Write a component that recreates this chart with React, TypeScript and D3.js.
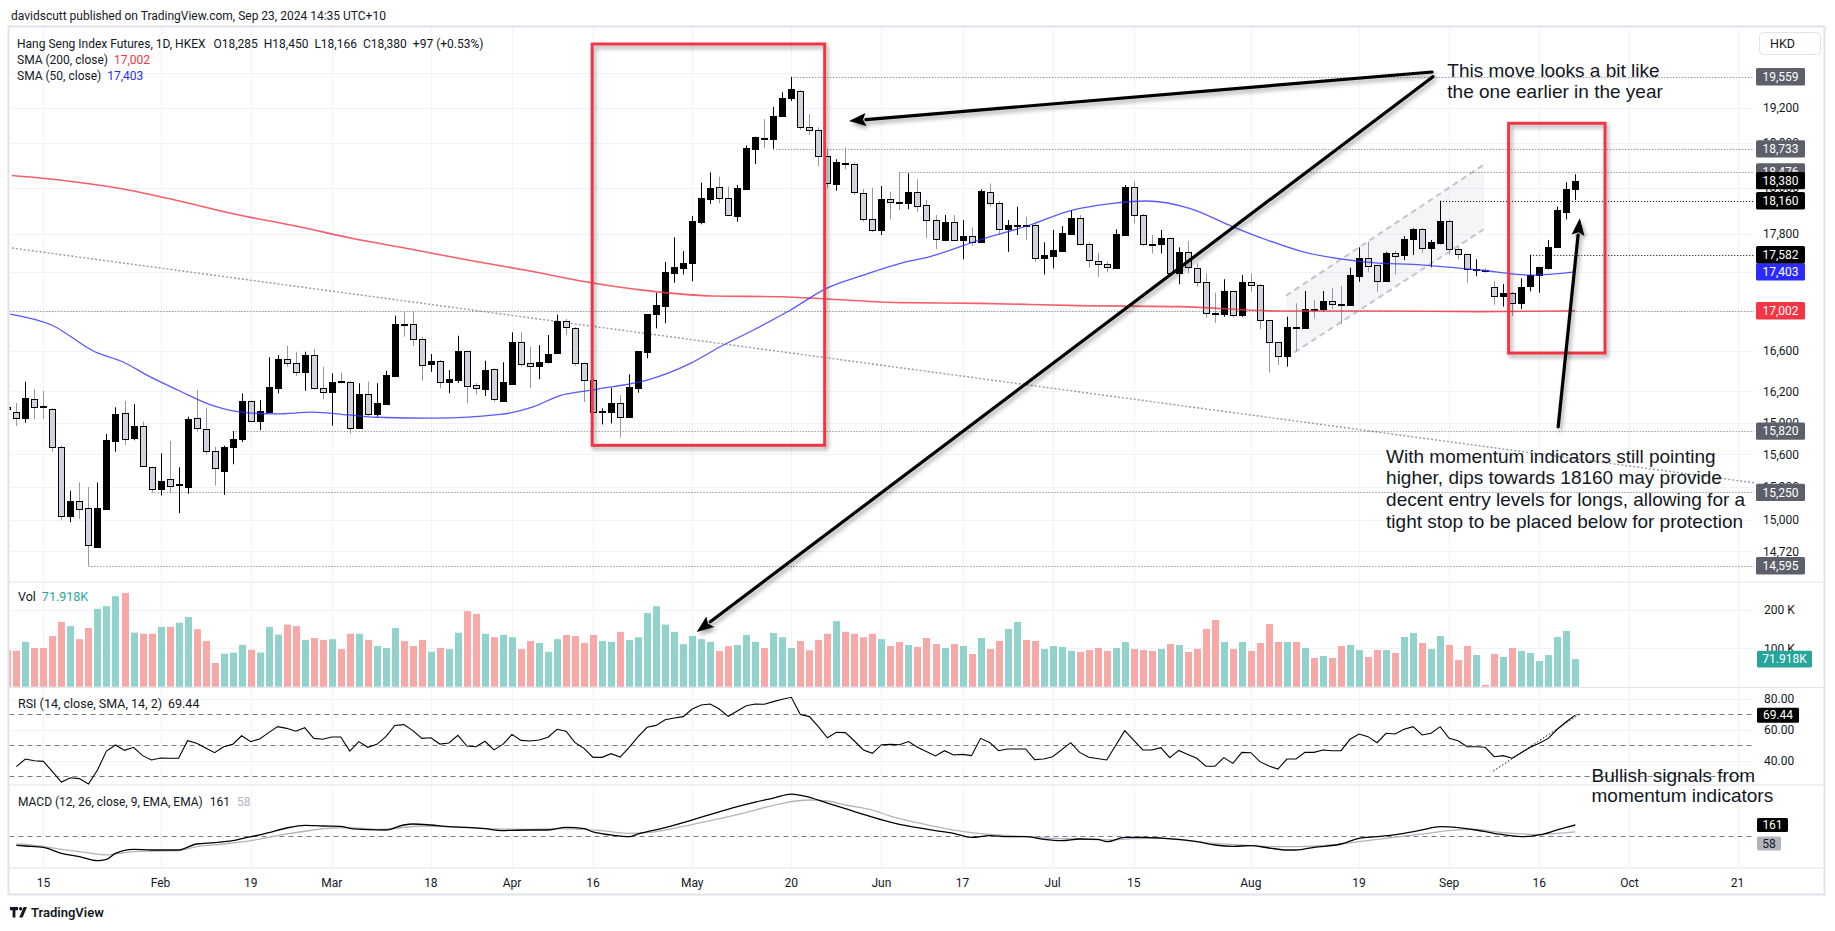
import React from "react";
import * as d3 from "d3";

const W = 1835;
const H = 931;
const FIRST_INDEX = -4; // bar index of the first (partly hidden) candle; index 0 = Jan 15

// ---------- OHLC (i = -4 .. 170) ----------
const opens = [
  16050, 15999, 15947, 16124, 16060, 16028, 15673, 15040, 15170, 15107,
  14762, 15101, 15729, 15989, 15752, 15864, 15481, 15285, 15370, 15325,
  15303, 15941, 15836, 15636, 15450, 15673, 15748, 16109, 15912, 16005,
  16234, 16515, 16475, 16387, 16557, 16230, 16192, 16305, 16292, 15846,
  16172, 15980, 16083, 16353, 16870, 16870, 16713, 16465, 16498, 16289,
  16311, 16597, 16260, 16227, 16416, 16111, 16276, 16684, 16475, 16448,
  16485, 16574, 16900, 16827, 16475, 16311, 16005, 16005, 16085, 15957,
  16236, 16590, 16966, 17053, 17387, 17446, 17492, 17933, 18182, 18307,
  18186, 17998, 18292, 18735, 18858, 18847, 19108, 19316, 19397, 18976,
  18942, 18656, 18346, 18570, 18559, 18248, 17959, 17844, 18176, 18143,
  18139, 18252, 18110, 17948, 17736, 17929, 17743, 17780, 17720, 18258,
  18132, 17851, 17897, 17899, 17894, 17553, 17570, 17624, 17806, 17970,
  17692, 17519, 17481, 17446, 17791, 18314, 18002, 17695, 17692, 17756,
  17387, 17607, 17446, 17293, 16980, 16966, 17205, 16963, 17293, 17265,
  16907, 16687, 16550, 16835, 16830, 17022, 17020, 17100, 17075, 17063,
  17362, 17544, 17474, 17311, 17597, 17576, 17745, 17851, 17650, 17710,
  17941, 17639, 17586, 17429, 17425, 17248, 17157, 17185, 17081, 17255,
  17369, 17439, 17667, 18040, 18285,
];
const highs = [
  16080, 16088, 16295, 16221, 16205, 16037, 15683, 15264, 15343, 15300,
  15340, 15793, 16047, 16109, 16078, 15910, 15487, 15611, 15727, 15481,
  15957, 16214, 16043, 15673, 15683, 15820, 16182, 16112, 16117, 16535,
  16557, 16650, 16590, 16590, 16617, 16441, 16376, 16382, 16302, 16280,
  16296, 16280, 16402, 16953, 16988, 16990, 16740, 16567, 16508, 16409,
  16750, 16597, 16280, 16501, 16425, 16485, 16784, 16784, 16640, 16657,
  16757, 16963, 16920, 16837, 16485, 16328, 16037, 16236, 16165, 16367,
  16597, 16969, 17187, 17506, 17766, 17621, 17995, 18357, 18471, 18423,
  18314, 18332, 18772, 18869, 19070, 19211, 19378, 19559, 19405, 19128,
  18976, 18739, 18616, 18752, 18582, 18288, 18302, 18321, 18258, 18476,
  18460, 18395, 18168, 18005, 18005, 18005, 17951, 17873, 18285, 18350,
  18157, 17951, 18095, 17986, 17909, 17714, 17844, 17886, 18059, 18005,
  17720, 17603, 17508, 17851, 18332, 18376, 18016, 17791, 17844, 17763,
  17660, 17727, 17492, 17387, 17187, 17326, 17208, 17369, 17387, 17275,
  16910, 16690, 16941, 17078, 17204, 17112, 17204, 17232, 17255, 17446,
  17660, 17720, 17474, 17613, 17624, 17780, 17862, 17868, 17738, 18160,
  17959, 17667, 17596, 17533, 17439, 17306, 17276, 17195, 17336, 17582,
  17452, 17738, 18095, 18361, 18450,
];
const lows = [
  16010, 15868, 15900, 15932, 15932, 15626, 14996, 14980, 15011, 14595,
  14756, 15092, 15626, 15689, 15733, 15487, 15250, 15222, 15243, 15061,
  15237, 15814, 15602, 15312, 15228, 15509, 15717, 15902, 15830, 15996,
  16182, 16442, 16350, 16207, 16220, 16124, 15871, 16280, 15798, 15840,
  15967, 15957, 16078, 16343, 16740, 16647, 16305, 16392, 16230, 16182,
  16283, 16085, 16172, 16156, 16101, 16101, 16263, 16441, 16230, 16320,
  16475, 16567, 16757, 16448, 16098, 15989, 15884, 15893, 15761, 15947,
  16188, 16525, 16824, 16875, 17290, 17376, 17304, 17906, 18124, 18132,
  17995, 17934, 18277, 18563, 18740, 18733, 19097, 19277, 18946, 18888,
  18541, 18296, 18270, 18505, 18223, 17934, 17823, 17791, 17959, 18059,
  18067, 18040, 17761, 17642, 17727, 17727, 17533, 17675, 17720, 18095,
  17791, 17613, 17791, 17738, 17507, 17376, 17439, 17613, 17791, 17681,
  17446, 17350, 17398, 17446, 17791, 17916, 17675, 17596, 17596, 17369,
  17273, 17387, 17248, 16931, 16880, 16941, 16935, 16941, 17197, 16815,
  16384, 16459, 16442, 16590, 16824, 16925, 16996, 17020, 16868, 17063,
  17300, 17398, 17197, 17300, 17377, 17526, 17579, 17603, 17450, 17692,
  17582, 17533, 17290, 17357, 17394, 17063, 17045, 16948, 17020, 17200,
  17187, 17429, 17656, 17959, 18166,
];
const closes = [
  16030, 15947, 16133, 16053, 16053, 15667, 15040, 15170, 15098, 14774,
  15107, 15736, 15980, 15742, 15864, 15493, 15282, 15352, 15309, 15330,
  15934, 15846, 15636, 15472, 15673, 15745, 16109, 15912, 16012, 16240,
  16515, 16475, 16390, 16557, 16230, 16192, 16292, 16300, 15846, 16172,
  15980, 16090, 16359, 16870, 16866, 16713, 16455, 16498, 16289, 16321,
  16597, 16253, 16230, 16406, 16124, 16292, 16684, 16465, 16448, 16488,
  16567, 16900, 16837, 16475, 16308, 15999, 16012, 16085, 15957, 16240,
  16597, 16969, 17057, 17398, 17456, 17495, 17941, 18186, 18299, 18186,
  18004, 18299, 18738, 18862, 18852, 19105, 19308, 19413, 18976, 18942,
  18656, 18350, 18582, 18565, 18252, 17962, 17844, 18176, 18143, 18140,
  18252, 18102, 17948, 17746, 17929, 17743, 17780, 17720, 18266, 18132,
  17851, 17897, 17899, 17892, 17553, 17578, 17632, 17809, 17970, 17692,
  17526, 17481, 17450, 17798, 18307, 18005, 17692, 17690, 17756, 17387,
  17607, 17450, 17293, 16976, 16975, 17205, 16956, 17293, 17265, 16910,
  16683, 16550, 16835, 16830, 17020, 17017, 17100, 17073, 17070, 17369,
  17544, 17466, 17311, 17597, 17572, 17745, 17851, 17650, 17714, 17941,
  17639, 17586, 17429, 17431, 17420, 17157, 17185, 17081, 17248, 17369,
  17450, 17660, 18056, 18283, 18380,
];
// volume in thousands
const volumes = [
  95, 93.9, 117, 101, 101, 132, 169, 158, 124, 153,
  203, 210, 236, 244, 141, 138, 138, 156, 156, 167,
  182, 150, 119, 61.8, 86, 89, 109, 96.5, 89, 156,
  136, 162, 158, 122, 127, 122, 124, 98, 138, 138,
  122, 106, 101, 153, 119, 106, 122, 91, 101, 98,
  141, 197, 190, 138, 129, 135, 129, 98, 119, 114,
  91, 124, 135, 132, 114, 135, 119, 117, 143, 122,
  129, 192, 210, 162, 143, 111, 132, 124, 117, 93,
  106, 109, 135, 117, 101, 140, 129, 101, 119, 95,
  122, 138, 171, 143, 138, 129, 138, 124, 106, 116.6,
  108.8, 103.6, 127, 111.3, 101, 111.3, 106.1, 85.3, 127, 98.4,
  119.1, 150.4, 168.6, 121.8, 119.1, 98.4, 106.1, 103.6, 93.1, 90.5,
  95.7, 101, 93.1, 101, 116.6, 98.4, 95.7, 93.1, 98.4, 111.3,
  108.8, 90.5, 98.4, 150.4, 173.9, 116.6, 98.4, 116.6, 93.1, 114,
  163.4, 116.6, 116.6, 116.6, 101, 75, 80.2, 75, 106.1, 108.8,
  95.7, 77.5, 95.7, 95.7, 88, 129.6, 140, 114, 98.4, 132.2,
  108.8, 69.6, 106.1, 82.6, 4.6, 85.3, 77.5, 101, 93.1, 88,
  67, 82.6, 129.6, 145.3, 71.918,
];

// ---------- indicators: [bar index, value] ----------
const sma50Points: [number, number][] = [
  [-3.7, 16969], [0.9, 16858], [5.7, 16590], [8.8, 16491], [11.8, 16344], [14.9, 16214],
  [18.9, 16060], [22.4, 15996], [25.9, 15984], [29.8, 16000], [33.8, 15974], [36.9, 15952],
  [43.4, 15943], [50.9, 15981], [54.4, 16053], [57.5, 16165], [59.5, 16197], [63.2, 16246],
  [67, 16311], [71.8, 16475], [75.1, 16640], [78.8, 16807], [82.9, 17010], [86.9, 17232],
  [91, 17369], [95.1, 17492], [98.4, 17562], [103.9, 17738], [109.5, 17898], [113.9, 18051],
  [118.7, 18132], [122.4, 18157], [127.2, 18077], [132, 17879], [135.8, 17738], [139.5, 17621],
  [146.5, 17508], [153.1, 17474], [159.4, 17422], [165, 17369], [170, 17403],
];
const sma200Points: [number, number][] = [
  [-3.5, 18436], [1.8, 18387], [8.2, 18299], [14.6, 18168], [21.2, 18016], [28.5, 17877],
  [34.1, 17759], [40.7, 17642], [47.1, 17526], [54, 17411], [59.5, 17311], [67, 17208],
  [74.3, 17153], [81.7, 17146], [89.1, 17112], [95.1, 17085], [103.9, 17078], [115, 17054],
  [126.1, 17044], [137.2, 17000], [148.2, 17000], [159.4, 16993], [170, 17002],
];
const rsiPoints: [number, number][] = [
  [-3, 36.1], [-2, 41.0], [-1, 39.9], [0, 39.5], [1, 32.8], [2, 26.1], [3, 28.9], [4, 28.3],
  [5, 24.8], [6, 33.9], [7, 46.2], [8, 50.1], [9, 46.6], [10, 48.6], [11, 43.2], [12, 40.4],
  [13, 41.7], [14, 41.5], [15, 41.5], [16, 52.9], [17, 51.2], [18, 48.2], [19, 45.1], [20, 49.0],
  [21, 50.5], [22, 56.1], [23, 52.3], [24, 54.0], [25, 58.1], [26, 62.0], [27, 60.9], [28, 59.0],
  [29, 61.3], [30, 54.4], [31, 53.8], [32, 55.3], [33, 55.3], [34, 46.2], [35, 52.3], [36, 48.6],
  [37, 50.5], [38, 55.5], [39, 62.8], [40, 63.3], [41, 59.4], [42, 54.4], [43, 54.8], [44, 50.7],
  [45, 51.4], [46, 56.4], [47, 49.4], [48, 49.0], [49, 52.5], [50, 46.9], [51, 50.5], [52, 57.0],
  [53, 53.1], [54, 52.7], [55, 53.3], [56, 55.1], [57, 60.3], [58, 59.0], [59, 51.6], [60, 47.9],
  [61, 42.1], [62, 42.1], [63, 44.5], [64, 42.3], [65, 48.6], [66, 55.5], [67, 61.6], [68, 62.8],
  [69, 66.5], [70, 67.6], [71, 68.5], [72, 73.4], [73, 76.0], [74, 76.7], [75, 73.4], [76, 68.7],
  [77, 72.1], [78, 75.6], [79, 76.7], [80, 76.5], [81, 78.2], [82, 79.7], [83, 81.0], [84, 69.8],
  [85, 68.5], [86, 62.0], [87, 54.8], [88, 58.3], [89, 58.1], [90, 52.7], [91, 46.9], [92, 44.7],
  [93, 50.3], [94, 50.5], [95, 50.3], [96, 52.3], [97, 48.6], [99, 43.0], [100, 46.4], [101, 43.6],
  [102, 44.0], [103, 43.2], [104, 54.4], [105, 51.8], [106, 46.4], [107, 47.5], [109, 47.5], [110, 40.6],
  [111, 41.0], [112, 42.5], [114, 51.6], [115, 45.3], [116, 42.1], [118, 40.4], [120, 59.4], [122, 46.9],
  [123, 46.9], [124, 48.4], [125, 41.9], [126, 46.6], [127, 44.0], [128, 41.5], [129, 36.3], [130, 36.3],
  [131, 41.9], [132, 38.2], [133, 45.3], [134, 45.1], [135, 39.3], [136, 36.5], [137, 34.5], [138, 41.0],
  [139, 41.0], [140, 45.3], [141, 45.3], [142, 46.9], [143, 46.4], [144, 46.4], [145, 53.8], [146, 57.2],
  [147, 55.5], [148, 51.6], [149, 57.7], [150, 57.2], [151, 60.3], [152, 62.0], [153, 56.6], [154, 57.7],
  [155, 62.0], [156, 54.4], [157, 52.9], [158, 49.0], [159, 49.0], [160, 48.6], [161, 42.5], [162, 43.2],
  [163, 41.5], [164, 45.1], [165, 48.6], [166, 51.2], [167, 54.4], [168, 60.3], [169, 65.2], [170, 69.44],
];
const macdPoints: [number, number][] = [
  [-3, -145], [-2, -155], [0, -175], [2, -265], [4, -315], [6, -375], [7, -355], [8, -265],
  [10, -205], [12, -215], [15, -215], [17, -125], [19, -105], [21, -75], [23, -15], [24, 11],
  [25, 46], [27, 116], [29, 156], [31, 146], [33, 141], [34, 111], [36, 91], [38, 86],
  [40, 161], [41, 176], [43, 161], [45, 136], [47, 126], [49, 106], [51, 76], [52, 81],
  [54, 86], [56, 86], [58, 126], [60, 106], [61, 56], [63, 11], [65, -15], [66, 26],
  [69, 121], [71, 196], [73, 280], [75, 360], [77, 437], [79, 505], [81, 565], [83, 627],
  [85, 577], [87, 490], [89, 407], [91, 320], [93, 240], [95, 170], [97, 121], [99, 76],
  [101, 36], [103, -25], [105, 0], [107, -15], [109, -15], [111, -55], [113, -75], [115, -50],
  [117, -55], [118, -90], [120, -25], [122, -25], [124, -35], [126, -55], [128, -90], [130, -140],
  [132, -160], [134, -150], [136, -185], [138, -215], [139, -215], [141, -175], [144, -125], [146, -40],
  [148, -15], [151, 36], [153, 86], [155, 136], [157, 121], [159, 86], [161, 36], [164, -15],
  [166, 11], [168, 86], [170, 161],
];
const signalPoints: [number, number][] = [
  [-3, -125], [-1, -145], [2, -205], [4, -240], [7, -290], [8, -275], [10, -240], [13, -230],
  [15, -225], [17, -165], [20, -125], [23, -75], [25, -25], [27, 26], [30, 86], [32, 116],
  [34, 121], [37, 96], [39, 111], [42, 146], [45, 136], [47, 121], [50, 101], [54, 96],
  [57, 106], [60, 96], [62, 76], [65, 36], [67, 46], [70, 111], [73, 196], [76, 286],
  [79, 386], [82, 487], [85, 537], [87, 522], [89, 462], [92, 386], [94, 296], [97, 196],
  [100, 111], [103, 46], [106, 11], [109, -15], [112, -40], [115, -50], [118, -65], [121, -45],
  [124, -40], [127, -75], [130, -115], [133, -140], [137, -165], [139, -165], [143, -140], [146, -90],
  [149, -40], [153, 26], [156, 76], [159, 96], [161, 61], [164, 26], [166, 21], [168, 36], [170, 58],
];

// ---------- axes ----------
const timeTickIdx = [0, 13, 23, 32, 43, 52, 61, 72, 83, 93, 102, 112, 121, 134, 146, 156, 166, 176, 188];
const timeTickLabels = ["15", "Feb", "19", "Mar", "18", "Apr", "16", "May", "20", "Jun", "17", "Jul", "15", "Aug", "19", "Sep", "16", "Oct", "21"];
const priceTicks = [19600, 19200, 18800, 18300, 17800, 17400, 17000, 16600, 16200, 15900, 15600, 15300, 15000, 14720];
const volTicks = [100, 200];
const rsiGridTicks = [80, 60, 40];
const rsiBands = [70, 50, 30];

// horizontal levels (drawings) and where they start
const levelPrices = [19559, 18733, 18476, 18160, 17582, 17002, 15820, 15250, 14595];
const levelStartIdx = [83, 81, 95, 155, 165, -5, 21, 12, 5];

// price-axis labels (drawn in this order)
const axisBoxPrices = [18476, 18733, 19559, 15820, 15250, 14595, 17002, 17403, 17582, 18160, 18380];

const fmt = d3.format(",");

export default function App() {
  const plotL = 9.5;
  const plotR = 1754;
  const mainT = 27, mainB = 582;
  const volT = 582, volB = 687.5;
  const rsiT = 687.5, rsiB = 785;
  const macdT = 785, macdB = 868;

  const xS = d3.scaleLinear().domain([0, 170]).range([43.4, 1575.3]);
  const yP = d3.scaleLog().domain([14595, 19559]).range([565.7, 76.8]);
  const yV = d3.scaleLinear().domain([0, 200]).range([686.7, 610]);
  const yR = d3.scaleLinear().domain([30, 70]).range([776, 714.3]);
  const yM = d3.scaleLinear().domain([0, 161]).range([835.7, 825]);

  const px = (i: number) => Math.round(xS(i)) + 0.5;

  const bars = opens.map((o, k) => ({
    i: FIRST_INDEX + k, o, h: highs[k], l: lows[k], c: closes[k], v: volumes[k],
  }));

  const priceLine = d3.line<[number, number]>().x((d) => xS(d[0])).y((d) => yP(d[1])).curve(d3.curveMonotoneX);
  const rsiLine = d3.line<[number, number]>().x((d) => xS(d[0])).y((d) => yR(d[1]));
  const macdLine = d3.line<[number, number]>().x((d) => xS(d[0])).y((d) => yM(d[1])).curve(d3.curveMonotoneX);

  const grid = "#f0f3fa";
  const sep = "#e0e3eb";
  const textCol = "#131722";
  const font = "Roboto, 'Noto Sans', 'DejaVu Sans', sans-serif";
  const annFont = "'Liberation Sans', Arial, sans-serif";

  const boxColor = (p: number) => {
    if (p === 17002) return "#f23645";
    if (p === 17403) return "#2b2bff";
    if (p === 18380 || p === 18160 || p === 17582) return "#000000";
    return "#5d606b";
  };
  const darkLevel = (p: number) => p === 18160 || p === 17582;

  const arrow = (x1: number, y1: number, x2: number, y2: number, key: string) => {
    const a = Math.atan2(y2 - y1, x2 - x1);
    const L = 17, Wd = 6.5;
    const bx = x2 - L * Math.cos(a), by = y2 - L * Math.sin(a);
    const nx = -Math.sin(a) * Wd, ny = Math.cos(a) * Wd;
    return (
      <g key={key} filter="url(#shadow)">
        <line x1={x1} y1={y1} x2={bx} y2={by} stroke="#000" strokeWidth={3.2} strokeLinecap="round" />
        <polygon points={`${x2},${y2} ${bx + nx},${by + ny} ${bx + 3 * Math.cos(a)},${by + 3 * Math.sin(a)} ${bx - nx},${by - ny}`} fill="#000" />
      </g>
    );
  };

  // annotation anchors (drawings), in data coordinates
  const box1 = { i0: 60.9, i1: 86.7, p0: 19947, p1: 15686 };
  const box2 = { i0: 162.6, i1: 173.3, p0: 19022, p1: 16577 };
  const chan = { i0: 137.9, i1: 159.9, u0: 17156, u1: 18560, l0: 16530, l1: 17855 };
  const trend = { i0: -3.5, p0: 17653, i1: 190, p1: 15336 };
  const rsiTrend = { i0: 160.9, r0: 33.2, i1: 170.5, r1: 70.2 };

  const text1 = ["This move looks a bit like", "the one earlier in the year"];
  const text2 = [
    "With momentum indicators still pointing",
    "higher, dips towards 18160 may provide",
    "decent entry levels for longs, allowing for a",
    "tight stop to be placed below for protection",
  ];
  const text3 = ["Bullish signals from", "momentum indicators"];

  const lastRsi = rsiPoints[rsiPoints.length - 1][1];
  const lastMacd = macdPoints[macdPoints.length - 1][1];
  const lastSignal = signalPoints[signalPoints.length - 1][1];
  const lastVol = volumes[volumes.length - 1];

  return (
    <div style={{ position: "absolute", left: 0, top: 0, width: W, height: H, background: "#fff" }}>
      <svg width={W} height={H} style={{ display: "block", fontFamily: font }}>
        <defs>
          <clipPath id="cMain"><rect x={plotL} y={mainT} width={plotR - plotL} height={mainB - mainT} /></clipPath>
          <clipPath id="cVol"><rect x={plotL} y={volT} width={plotR - plotL} height={volB - volT} /></clipPath>
          <clipPath id="cRsi"><rect x={plotL} y={rsiT} width={plotR - plotL} height={rsiB - rsiT} /></clipPath>
          <clipPath id="cMacd"><rect x={plotL} y={macdT} width={plotR - plotL} height={macdB - macdT} /></clipPath>
          <filter id="shadow" filterUnits="userSpaceOnUse" x="0" y="0" width={W} height={H}>
            <feDropShadow dx="2" dy="3" stdDeviation="2" floodColor="#000" floodOpacity="0.35" />
          </filter>
        </defs>

        <rect x={0} y={0} width={W} height={H} fill="#fff" />

        {/* header */}
        <text x={11} y={19.5} fontSize={12} fill={textCol}>
          davidscutt published on TradingView.com, Sep 23, 2024 14:35 UTC+10
        </text>

        {/* frame */}
        <rect x={8.5} y={26.5} width={1816} height={868} fill="none" stroke={sep} strokeWidth={2} />

        {/* vertical grid */}
        {timeTickIdx.map((t, k) => (
          <line key={"vg" + k} x1={px(t)} x2={px(t)} y1={mainT} y2={macdB} stroke={grid} strokeWidth={1} />
        ))}
        {/* price grid */}
        {priceTicks.map((p) => (
          <line key={"pg" + p} x1={plotL} x2={plotR} y1={Math.round(yP(p)) + 0.5} y2={Math.round(yP(p)) + 0.5} stroke={grid} />
        ))}
        {volTicks.map((v) => (
          <line key={"vgr" + v} x1={plotL} x2={plotR} y1={Math.round(yV(v)) + 0.5} y2={Math.round(yV(v)) + 0.5} stroke={grid} />
        ))}
        {rsiGridTicks.map((v) => (
          <line key={"rg" + v} x1={plotL} x2={plotR} y1={Math.round(yR(v)) + 0.5} y2={Math.round(yR(v)) + 0.5} stroke={grid} />
        ))}

        {/* pane separators */}
        {[volT, rsiT, macdT, macdB].map((y, k) => (
          <line key={"sep" + k} x1={plotL - 1} x2={1825} y1={y} y2={y} stroke={sep} strokeWidth={1} />
        ))}

        {/* ---------- main pane ---------- */}
        <g clipPath="url(#cMain)">
          {/* parallel channel */}
          <polygon
            points={`${xS(chan.i0)},${yP(chan.u0)} ${xS(chan.i1)},${yP(chan.u1)} ${xS(chan.i1)},${yP(chan.l1)} ${xS(chan.i0)},${yP(chan.l0)}`}
            fill="rgba(120,123,134,0.08)"
          />
          <line x1={xS(chan.i0)} y1={yP(chan.u0)} x2={xS(chan.i1)} y2={yP(chan.u1)} stroke="#c3c5cc" strokeWidth={2} strokeDasharray="6 4" />
          <line x1={xS(chan.i0)} y1={yP(chan.l0)} x2={xS(chan.i1)} y2={yP(chan.l1)} stroke="#c3c5cc" strokeWidth={2} strokeDasharray="6 4" />

          {/* descending trendline */}
          <line x1={xS(trend.i0)} y1={yP(trend.p0)} x2={xS(trend.i1)} y2={yP(trend.p1)} stroke="#9598a1" strokeWidth={1.4} strokeDasharray="2 2" />

          {/* horizontal levels */}
          {levelPrices.map((p, k) => (
            <line
              key={"lv" + p}
              x1={xS(levelStartIdx[k])}
              x2={plotR}
              y1={Math.round(yP(p)) + 0.5}
              y2={Math.round(yP(p)) + 0.5}
              stroke={darkLevel(p) ? "#000" : "#6a6d78"}
              strokeWidth={1}
              strokeDasharray="1 2"
            />
          ))}

          {/* candles */}
          {bars.map((b) => {
            const cx = px(b.i);
            const up = b.c >= b.o;
            const yt = Math.round(yP(Math.max(b.o, b.c))) + 0.5;
            const yb = Math.round(yP(Math.min(b.o, b.c))) + 0.5;
            const hh = Math.max(1, yb - yt);
            return (
              <g key={"c" + b.i}>
                <line x1={cx} x2={cx} y1={yP(b.h)} y2={yP(b.l)} stroke={up ? "#000" : "#9598a1"} strokeWidth={1} />
                <rect x={cx - 3} y={yt} width={6} height={hh} fill={up ? "#000" : "#d1d4dc"} stroke="#000" strokeWidth={1} />
              </g>
            );
          })}

          {/* moving averages */}
          <path d={priceLine(sma200Points) || ""} fill="none" stroke="#f23645" strokeOpacity={0.8} strokeWidth={1.6} />
          <path d={priceLine(sma50Points) || ""} fill="none" stroke="#3030ff" strokeOpacity={0.8} strokeWidth={1.3} />
        </g>

        {/* red highlight boxes */}
        {[box1, box2].map((b, k) => (
          <rect
            key={"rb" + k}
            x={xS(b.i0)}
            y={yP(b.p0)}
            width={xS(b.i1) - xS(b.i0)}
            height={yP(b.p1) - yP(b.p0)}
            fill="none"
            stroke="#f23645"
            strokeWidth={3}
            filter="url(#shadow)"
          />
        ))}

        {/* ---------- volume pane ---------- */}
        <g clipPath="url(#cVol)">
          {bars.map((b) => (
            <rect
              key={"v" + b.i}
              x={Math.round(xS(b.i)) - 3}
              y={yV(b.v)}
              width={7}
              height={yV(0) - yV(b.v)}
              fill={b.c >= b.o ? "#92d2cc" : "#f7a9a7"}
            />
          ))}
        </g>

        {/* ---------- RSI pane ---------- */}
        <g clipPath="url(#cRsi)">
          {rsiBands.map((v) => (
            <line key={"rb" + v} x1={plotL} x2={plotR} y1={Math.round(yR(v)) + 0.5} y2={Math.round(yR(v)) + 0.5} stroke="#787b86" strokeDasharray="5 4" />
          ))}
          <path d={rsiLine(rsiPoints) || ""} fill="none" stroke="#000" strokeWidth={1.1} />
          <line x1={xS(rsiTrend.i0)} y1={yR(rsiTrend.r0)} x2={xS(rsiTrend.i1)} y2={yR(rsiTrend.r1)} stroke="#000" strokeWidth={1} strokeDasharray="1.5 2" />
        </g>

        {/* ---------- MACD pane ---------- */}
        <g clipPath="url(#cMacd)">
          <line x1={plotL} x2={plotR} y1={Math.round(yM(0)) + 0.5} y2={Math.round(yM(0)) + 0.5} stroke="#787b86" strokeDasharray="5 4" />
          <path d={macdLine(signalPoints) || ""} fill="none" stroke="#b2b5be" strokeWidth={1.3} />
          <path d={macdLine(macdPoints) || ""} fill="none" stroke="#000" strokeWidth={1.3} />
        </g>

        {/* arrows */}
        {arrow(xS(154.1), yP(19615), xS(89.4), yP(19048), "a1")}
        {arrow(xS(154.2), yP(19560), xS(72.5), yV(142.6), "a2")}
        {arrow(xS(168.1), yP(15861), xS(170.5), yP(17970), "a3")}

        {/* annotation texts */}
        <g fontFamily={annFont} fontSize={19} fill={textCol}>
          {text1.map((t, k) => (
            <text key={"t1" + k} x={xS(155.8)} y={yP(19560) + k * 21.7}>{t}</text>
          ))}
          {text2.map((t, k) => (
            <text key={"t2" + k} x={xS(149.0)} y={yP(15523) + k * 21.7}>{t}</text>
          ))}
          {text3.map((t, k) => (
            <text key={"t3" + k} x={xS(171.8)} y={yR(26.3) + k * 20}>{t}</text>
          ))}
        </g>

        {/* ---------- legends ---------- */}
        <text x={17} y={47.5} fontSize={12} fill={textCol}>
          Hang Seng Index Futures, 1D, HKEX
          <tspan dx={8}>O</tspan><tspan>18,285</tspan>
          <tspan dx={6}>H</tspan><tspan>18,450</tspan>
          <tspan dx={6}>L</tspan><tspan>18,166</tspan>
          <tspan dx={6}>C</tspan><tspan>18,380</tspan>
          <tspan dx={6}>+97 (+0.53%)</tspan>
        </text>
        <text x={17} y={63.5} fontSize={12} fill={textCol}>
          SMA (200, close)<tspan dx={6} fill="#f23645">{fmt(sma200Points[sma200Points.length - 1][1])}</tspan>
        </text>
        <text x={17} y={80} fontSize={12} fill={textCol}>
          SMA (50, close)<tspan dx={6} fill="#2b2bff">{fmt(sma50Points[sma50Points.length - 1][1])}</tspan>
        </text>
        <text x={18} y={601} fontSize={12.5} fill={textCol}>
          Vol<tspan dx={6} fill="#26a69a">{lastVol.toFixed(3)}K</tspan>
        </text>
        <text x={18} y={707.5} fontSize={12.5} fill={textCol}>
          RSI (14, close, SMA, 14, 2)<tspan dx={6}>{lastRsi.toFixed(2)}</tspan>
        </text>
        <text x={18} y={806} fontSize={12} fill={textCol}>
          MACD (12, 26, close, 9, EMA, EMA)<tspan dx={7}>{lastMacd}</tspan>
          <tspan dx={7} fill="#b2b5be">{lastSignal}</tspan>
        </text>

        {/* ---------- right axis ---------- */}
        <rect x={1759.5} y={32.5} width={61} height={22} rx={4} fill="#fff" stroke={sep} />
        <text x={1770} y={48} fontSize={12.5} fill={textCol}>HKD</text>

        {priceTicks.map((p) => (
          <text key={"pt" + p} x={1781} y={yP(p) + 4.3} fontSize={12} fill={textCol} textAnchor="middle">{fmt(p)}</text>
        ))}
        {axisBoxPrices.map((p) => (
          <g key={"bx" + p}>
            <rect x={1756} y={yP(p) - 8.7} width={49} height={17.4} rx={1.5} fill={boxColor(p)} />
            <text x={1780.5} y={yP(p) + 4.3} fontSize={12} fill="#fff" textAnchor="middle">{fmt(p)}</text>
          </g>
        ))}

        {volTicks.map((v) => (
          <text key={"vt" + v} x={1764} y={yV(v) + 4.3} fontSize={12} fill={textCol}>{v} K</text>
        ))}
        <rect x={1757} y={yV(lastVol) - 8.3} width={55} height={16.7} rx={1.5} fill="#26a69a" />
        <text x={1784.5} y={yV(lastVol) + 4.3} fontSize={12} fill="#fff" textAnchor="middle">{lastVol.toFixed(3)}K</text>

        {rsiGridTicks.map((v) => (
          <text key={"rt" + v} x={1764} y={yR(v) + 4.3} fontSize={12} fill={textCol}>{v.toFixed(2)}</text>
        ))}
        <rect x={1757} y={yR(lastRsi) - 7.5} width={42} height={15} rx={1.5} fill="#000" />
        <text x={1778} y={yR(lastRsi) + 4.2} fontSize={12} fill="#fff" textAnchor="middle">{lastRsi.toFixed(2)}</text>

        <rect x={1757} y={yM(lastMacd) - 7} width={31} height={14} rx={1.5} fill="#000" />
        <text x={1772.5} y={yM(lastMacd) + 4.2} fontSize={12} fill="#fff" textAnchor="middle">{lastMacd}</text>
        <rect x={1757} y={yM(lastMacd) + 11.5} width={24} height={14} rx={1.5} fill="#b2b5be" />
        <text x={1769} y={yM(lastMacd) + 22.7} fontSize={12} fill="#131722" textAnchor="middle">{lastSignal}</text>

        {/* ---------- time axis ---------- */}
        {timeTickIdx.map((t, k) => (
          <text key={"tt" + k} x={xS(t)} y={886.5} fontSize={12} fill={textCol} textAnchor="middle">{timeTickLabels[k]}</text>
        ))}

        {/* TradingView mark */}
        <g fill={textCol}>
          <path d="M10 907h8v3.2h-2.6v7.3h-2.8v-7.3h-2.6z" />
          <circle cx={20.6} cy={908.7} r={1.7} />
          <path d="M23.6 907h3.4l-4.4 10.5h-3.3z" />
          <text x={31} y={916.5} fontSize={13} fontWeight={600} fontFamily={font}>TradingView</text>
        </g>
      </svg>
    </div>
  );
}
